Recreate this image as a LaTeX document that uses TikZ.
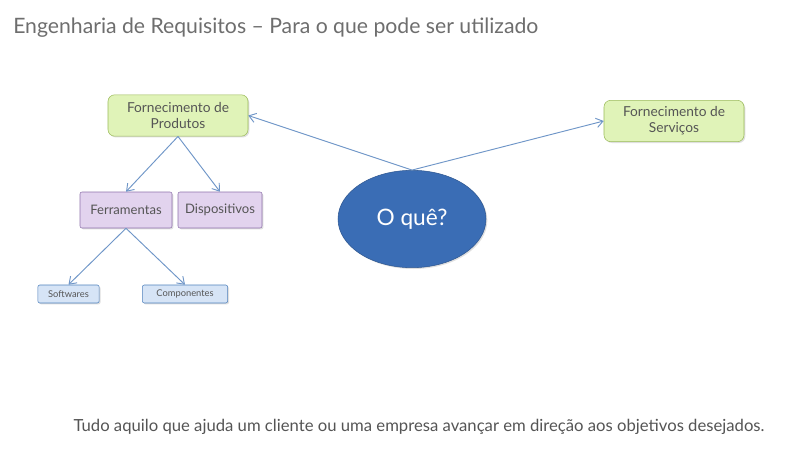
\documentclass[tikz,border=0pt]{standalone}
\usepackage{fontspec}
\setmainfont{Lato}
\usetikzlibrary{arrows.meta}
\usetikzlibrary{shadows}
\usetikzlibrary{shapes.geometric}

\definecolor{verdeF}{HTML}{E0F3B8}
\definecolor{verdeB}{HTML}{9BBB59}
\definecolor{roxoF}{HTML}{E2D3EE}
\definecolor{roxoB}{HTML}{8E72AC}
\definecolor{azulF}{HTML}{D6E4F6}
\definecolor{azulB}{HTML}{4F81BD}
\definecolor{elipseF}{HTML}{3A6DB5}
\definecolor{seta}{HTML}{6F96C8}
\definecolor{texto}{HTML}{555555}

\begin{document}
\begin{tikzpicture}[x=0.75pt,y=-0.75pt,
    caixa/.style={draw,rounded corners=1.5pt,align=center,text=texto,
        drop shadow={opacity=0.25,shadow xshift=1pt,shadow yshift=-1pt}},
    verde/.style={caixa,fill=verdeF,draw=verdeB,rounded corners=5pt,
        minimum width=105pt,minimum height=31pt,font=\fontsize{10.3}{12}\selectfont},
    roxo/.style={caixa,fill=roxoF,draw=roxoB,minimum height=27pt,
        font=\fontsize{9.8}{11}\selectfont},
    azul/.style={caixa,fill=azulF,draw=azulB,minimum height=13.5pt,inner sep=1pt,
        font=\fontsize{7}{8}\selectfont},
    seta/.style={draw=seta,line width=0.7pt,-{Straight Barb[length=5pt,width=7pt]}}]

        \useasboundingbox[fill=white] (0,0) rectangle (791,449);

        \coordinate (T) at (13,28);
        \coordinate (U) at (419,427);

        \node[verde] (prod) at (178,115.5) {Fornecimento de\\Produtos};
        \node[verde] (serv) at (674,121) {Fornecimento de\\Serviços};
        \node[roxo,minimum width=69pt] (ferr) at (126,210) {Ferramentas};
        \node[roxo,minimum width=63pt] (disp) at (220,210) {Dispositivos};
        \node[azul,minimum width=46pt] (soft) at (68.5,294) {Softwares};
        \node[azul,minimum width=64pt] (comp) at (185,294) {Componentes};
        \node[draw=elipseF!80!black,fill=elipseF,ellipse,minimum width=111pt,
            minimum height=73pt,text=white,font=\fontsize{17}{20}\selectfont,
            drop shadow={opacity=0.25,shadow xshift=1pt,shadow yshift=-1pt}]
            (oque) at (412,219) {O quê?};

        \draw[seta] (oque.north) -- (prod.east);   % produtos
        \draw[seta] (oque.north) -- (serv.west);   % servicos
        \draw[seta] (prod.south) -- (ferr.north);
        \draw[seta] (prod.south) -- (disp.north);
        \draw[seta] (ferr.south) -- (soft.north);
        \draw[seta] (ferr.south) -- (comp.north);

        \node[anchor=west,inner sep=0pt,text=texto!85,font=\fontsize{15.9}{19}\selectfont] (titulo) at (T)
            {Engenharia de Requisitos – Para o que pode ser utilizado};
        \node[text=texto,font=\fontsize{12.5}{15}\selectfont] (rodape) at (U)
            {Tudo aquilo que ajuda um cliente ou uma empresa avançar em direção aos objetivos desejados.};

    \end{tikzpicture}
\end{document}
